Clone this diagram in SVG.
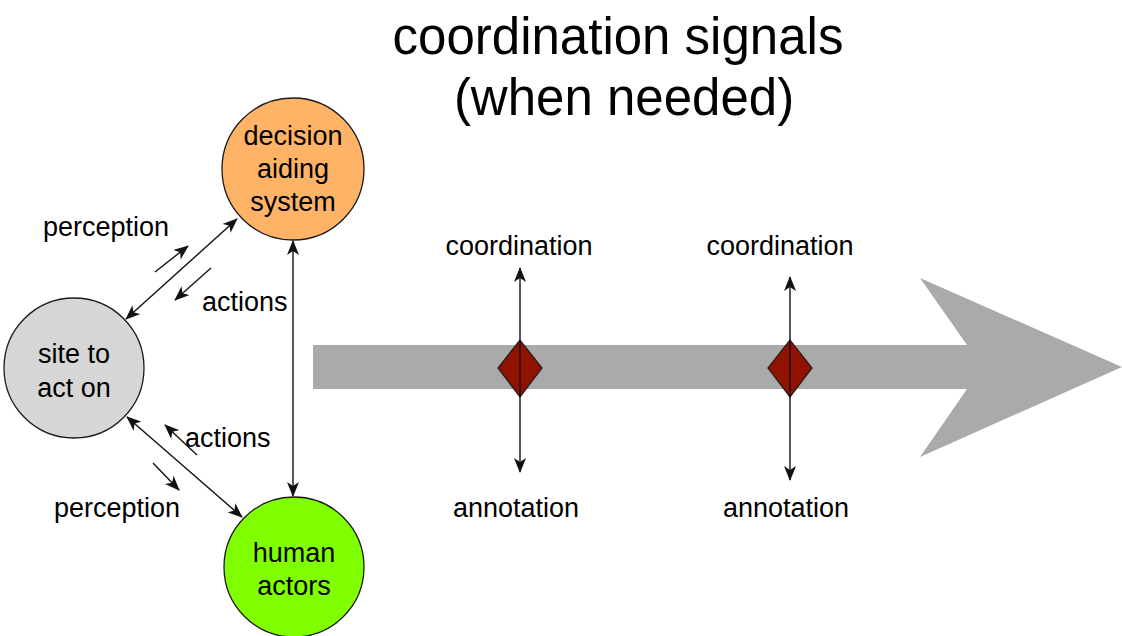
<svg xmlns="http://www.w3.org/2000/svg" width="1122" height="636" viewBox="0 0 1122 636">
  <style>
    text { font-family: "Liberation Sans", Arial, sans-serif; fill: #000; }
    .title { font-size: 51px; text-anchor: middle; }
    .lbl { font-size: 27px; }
    .node-text { font-size: 27px; text-anchor: middle; }
    .node { stroke: #1a1a1a; stroke-width: 1.3; }
    .edge { stroke: #111; stroke-width: 1.4; fill: none; }
    .diamond { fill: #8f1300; stroke: #1a1a1a; stroke-width: 1.2; }
  </style>
  <defs>
    <marker id="arr" viewBox="0 0 15 12" refX="14" refY="6" markerWidth="15" markerHeight="12" markerUnits="userSpaceOnUse" orient="auto-start-reverse">
      <path d="M0,0 L15,6 L0,12 L4,6 z" fill="#111"/>
    </marker>
  </defs>

  <rect width="1122" height="636" fill="#fff"/>

  <!-- heading -->
  <g id="title">
    <text class="title" x="618" y="54">coordination signals</text>
    <text class="title" x="624" y="115">(when needed)</text>
  </g>

  <!-- timeline arrow -->
  <g id="timeline">
    <path d="M313,345 L967,345 L920,278 L1122,367 L920,457 L967,389 L313,389 Z" fill="#aaaaaa"/>
  </g>

  <!-- connectors -->
  <g id="connectors">
    <line class="edge" x1="237" y1="219" x2="126" y2="319" marker-start="url(#arr)" marker-end="url(#arr)"/>
    <line class="edge" x1="293" y1="241" x2="293" y2="496" marker-start="url(#arr)" marker-end="url(#arr)"/>
    <line class="edge" x1="127" y1="417" x2="242" y2="517" marker-start="url(#arr)" marker-end="url(#arr)"/>
    <!-- flow hints -->
    <line class="edge" x1="155" y1="272" x2="188" y2="246" marker-end="url(#arr)"/>
    <line class="edge" x1="211" y1="268" x2="175" y2="300" marker-end="url(#arr)"/>
    <line class="edge" x1="197" y1="455" x2="165" y2="425" marker-end="url(#arr)"/>
    <line class="edge" x1="153" y1="463" x2="179" y2="490" marker-end="url(#arr)"/>
    <!-- signal arrows on the timeline -->
    <line class="edge" x1="520" y1="368" x2="520" y2="268" marker-end="url(#arr)"/>
    <line class="edge" x1="520" y1="368" x2="520" y2="472" marker-end="url(#arr)"/>
    <line class="edge" x1="790" y1="368" x2="790" y2="277" marker-end="url(#arr)"/>
    <line class="edge" x1="790" y1="368" x2="790" y2="480" marker-end="url(#arr)"/>
  </g>

  <!-- signal points -->
  <g id="signal-1">
    <path class="diamond" d="M520,340 L542,368 L520,397 L498,368 Z"/>
    <line class="edge" x1="520" y1="340" x2="520" y2="397"/>
  </g>
  <g id="signal-2">
    <path class="diamond" d="M790,340 L812,368 L790,397 L768,368 Z"/>
    <line class="edge" x1="790" y1="340" x2="790" y2="397"/>
  </g>

  <!-- nodes -->
  <g id="decision-aiding-system">
    <circle class="node" cx="293" cy="169" r="71" fill="#ffb366"/>
    <text class="node-text" x="293" y="145">decision</text>
    <text class="node-text" x="293" y="178">aiding</text>
    <text class="node-text" x="293" y="211">system</text>
  </g>
  <g id="site-to-act-on">
    <circle class="node" cx="74" cy="368" r="70" fill="#d6d6d6"/>
    <text class="node-text" x="74" y="363">site to</text>
    <text class="node-text" x="74" y="397">act on</text>
  </g>
  <g id="human-actors">
    <circle class="node" cx="294" cy="567" r="70" fill="#80ff00"/>
    <text class="node-text" x="294" y="562">human</text>
    <text class="node-text" x="294" y="595">actors</text>
  </g>

  <!-- labels -->
  <g id="labels">
    <text class="lbl" x="43" y="236">perception</text>
    <text class="lbl" x="202" y="311">actions</text>
    <text class="lbl" x="185" y="447">actions</text>
    <text class="lbl" x="54" y="517">perception</text>
    <text class="lbl" x="519" y="255" text-anchor="middle">coordination</text>
    <text class="lbl" x="780" y="255" text-anchor="middle">coordination</text>
    <text class="lbl" x="516" y="517" text-anchor="middle">annotation</text>
    <text class="lbl" x="786" y="517" text-anchor="middle">annotation</text>
  </g>
</svg>
